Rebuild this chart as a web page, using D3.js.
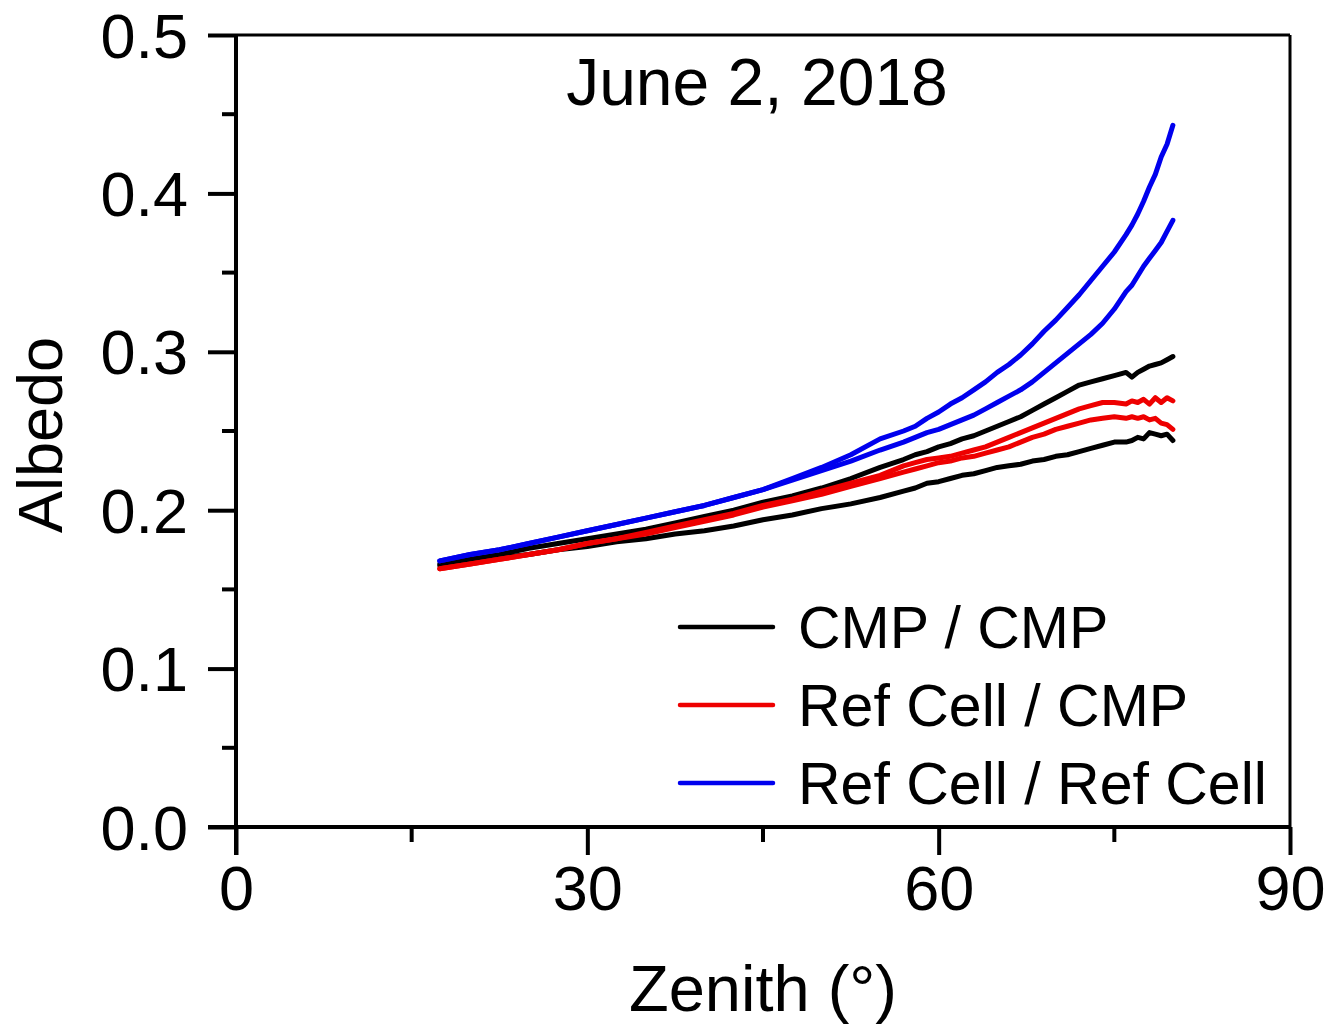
<!DOCTYPE html>
<html><head><meta charset="utf-8">
<script src="https://cdn.jsdelivr.net/npm/d3@7"></script>
<style>body{margin:0;background:#fff}svg{display:block}text{font-family:"Liberation Sans",Arial,sans-serif;fill:#000}</style>
</head><body><svg id="c" width="1332" height="1026"></svg>
<script>
const title = "June 2, 2018";
const xLabel = "Zenith (\u00B0)";
const yLabel = "Albedo";
const xTicks = [0, 30, 60, 90];
const xMinor = [15, 45, 75];
const yTicks = [0.0, 0.1, 0.2, 0.3, 0.4, 0.5];
const yMinor = [0.05, 0.15, 0.25, 0.35, 0.45];
const seriesNames = ["CMP / CMP", "Ref Cell / CMP", "Ref Cell / Ref Cell"];
const seriesColors = ["#000000", "#ee0000", "#0000ee"];

const zenith = [17.4,20,22.5,25,27.5,30,32.5,35,37.5,40,42.5,45,47.5,50,52.5,55,57,58,59,60,61,62,63,64,65,66,67,68,69,70,71,72,73,74,75,76,76.5,77,77.5,78,78.5,79,79.5,80];

const cmpA   = [0.166,0.169,0.172,0.176,0.179,0.182,0.185,0.188,0.192,0.196,0.200,0.205,0.209,0.214,0.220,0.227,0.232,0.235,0.237,0.240,0.242,0.245,0.247,0.250,0.253,0.256,0.259,0.263,0.267,0.271,0.275,0.279,0.281,0.283,0.285,0.287,0.284,0.287,0.289,0.291,0.292,0.293,0.295,0.297];
const cmpB   = [0.165,0.167,0.170,0.172,0.175,0.177,0.180,0.182,0.185,0.187,0.190,0.194,0.197,0.201,0.204,0.208,0.212,0.214,0.217,0.218,0.220,0.222,0.223,0.225,0.227,0.228,0.229,0.231,0.232,0.234,0.235,0.237,0.239,0.241,0.243,0.243,0.244,0.246,0.245,0.249,0.248,0.247,0.248,0.244];
const refA   = [0.163,0.166,0.169,0.172,0.175,0.179,0.182,0.186,0.190,0.194,0.198,0.203,0.207,0.212,0.217,0.222,0.228,0.230,0.232,0.233,0.234,0.236,0.238,0.240,0.243,0.246,0.249,0.252,0.255,0.258,0.261,0.264,0.266,0.268,0.268,0.267,0.269,0.268,0.270,0.267,0.271,0.268,0.271,0.269];
const refB   = [0.163,0.166,0.169,0.172,0.175,0.179,0.182,0.185,0.189,0.193,0.197,0.202,0.206,0.210,0.215,0.220,0.224,0.226,0.228,0.230,0.231,0.233,0.234,0.236,0.238,0.240,0.243,0.246,0.248,0.251,0.253,0.255,0.257,0.258,0.259,0.258,0.259,0.258,0.259,0.257,0.258,0.255,0.254,0.251];
const rcA    = [0.168,0.172,0.175,0.179,0.183,0.187,0.191,0.195,0.199,0.203,0.208,0.213,0.220,0.227,0.235,0.245,0.250,0.253,0.258,0.262,0.267,0.271,0.276,0.281,0.287,0.292,0.298,0.305,0.313,0.320,0.328,0.336,0.345,0.354,0.363,0.374,0.380,0.387,0.395,0.404,0.412,0.423,0.431,0.443];
const rcB    = [0.168,0.172,0.175,0.179,0.183,0.187,0.191,0.195,0.199,0.203,0.208,0.213,0.219,0.225,0.231,0.238,0.243,0.246,0.249,0.251,0.254,0.257,0.260,0.264,0.268,0.272,0.276,0.281,0.287,0.293,0.299,0.305,0.311,0.318,0.327,0.338,0.342,0.348,0.354,0.359,0.364,0.369,0.376,0.383];

const series = [
  {name: seriesNames[0], color: seriesColors[0], values: [cmpA, cmpB]},
  {name: seriesNames[1], color: seriesColors[1], values: [refA, refB]},
  {name: seriesNames[2], color: seriesColors[2], values: [rcA, rcB]}
];

const svg = d3.select("#c");
const L = 236, R = 1290, T = 35, B = 827;
const x = d3.scaleLinear().domain([0, 90]).range([L, R]);
const y = d3.scaleLinear().domain([0, 0.5]).range([B, T]);

// frame top/right
svg.append("line").attr("x1", L).attr("x2", R).attr("y1", T).attr("y2", T).attr("stroke", "#000").attr("stroke-width", 3);
svg.append("line").attr("x1", R).attr("x2", R).attr("y1", T).attr("y2", B).attr("stroke", "#000").attr("stroke-width", 3);

// data
const line = d3.line().x((d, i) => x(zenith[i])).y(d => y(d));
series.forEach(s => {
  s.values.forEach(v => {
    svg.append("path").datum(v).attr("d", line).attr("fill", "none")
      .attr("stroke", s.color).attr("stroke-width", 5).attr("stroke-linejoin", "round").attr("stroke-linecap", "round");
  });
});

// axes
const xAxis = d3.axisBottom(x).tickValues(xTicks).tickSize(28).tickPadding(12).tickFormat(d3.format("d"));
const gx = svg.append("g").attr("transform", `translate(0,${B})`).call(xAxis);
gx.append("g").selectAll("line").data(xMinor).join("line")
  .attr("x1", d => x(d)).attr("x2", d => x(d)).attr("y1", 0).attr("y2", 15).attr("stroke", "#000").attr("stroke-width", 4);
const yAxis = d3.axisLeft(y).tickValues(yTicks).tickSize(28).tickPadding(20).tickFormat(d3.format(".1f"));
const gy = svg.append("g").attr("transform", `translate(${L},0)`).call(yAxis);
gy.append("g").selectAll("line").data(yMinor).join("line")
  .attr("x1", 0).attr("x2", -14).attr("y1", d => y(d)).attr("y2", d => y(d)).attr("stroke", "#000").attr("stroke-width", 4);
[gx, gy].forEach(g => {
  g.select(".domain").attr("stroke-width", 4);
  g.selectAll(".tick line").attr("stroke-width", 4);
  g.selectAll(".tick text").attr("font-size", 63).attr("font-family", "Liberation Sans, Arial, sans-serif");
});
gx.select(".domain").attr("d", `M${L-28},0H${R}`);
gy.select(".domain").attr("d", `M0,${B+28}V${T}`);
gx.selectAll(".tick text").attr("dy", "0.68em");
gy.selectAll(".tick text").attr("dy", "0.35em");

// titles
svg.append("text").attr("x", 757).attr("y", 105).attr("text-anchor", "middle").attr("font-size", 66).text(title);
svg.append("text").attr("x", 763).attr("y", 1011).attr("text-anchor", "middle").attr("font-size", 65).text(xLabel);
svg.append("text").attr("transform", "translate(62,435) rotate(-90)").attr("text-anchor", "middle").attr("font-size", 63).text(yLabel);

// legend
const lg = svg.append("g");
series.forEach((s, i) => {
  const yy = 627 + i * 78;
  lg.append("line").attr("x1", 680).attr("x2", 773).attr("y1", yy).attr("y2", yy).attr("stroke", s.color).attr("stroke-width", 4.5).attr("stroke-linecap", "round");
  lg.append("text").attr("x", 798).attr("y", yy).attr("dy", "0.36em").attr("font-size", 59).text(s.name);
});
</script></body></html>
